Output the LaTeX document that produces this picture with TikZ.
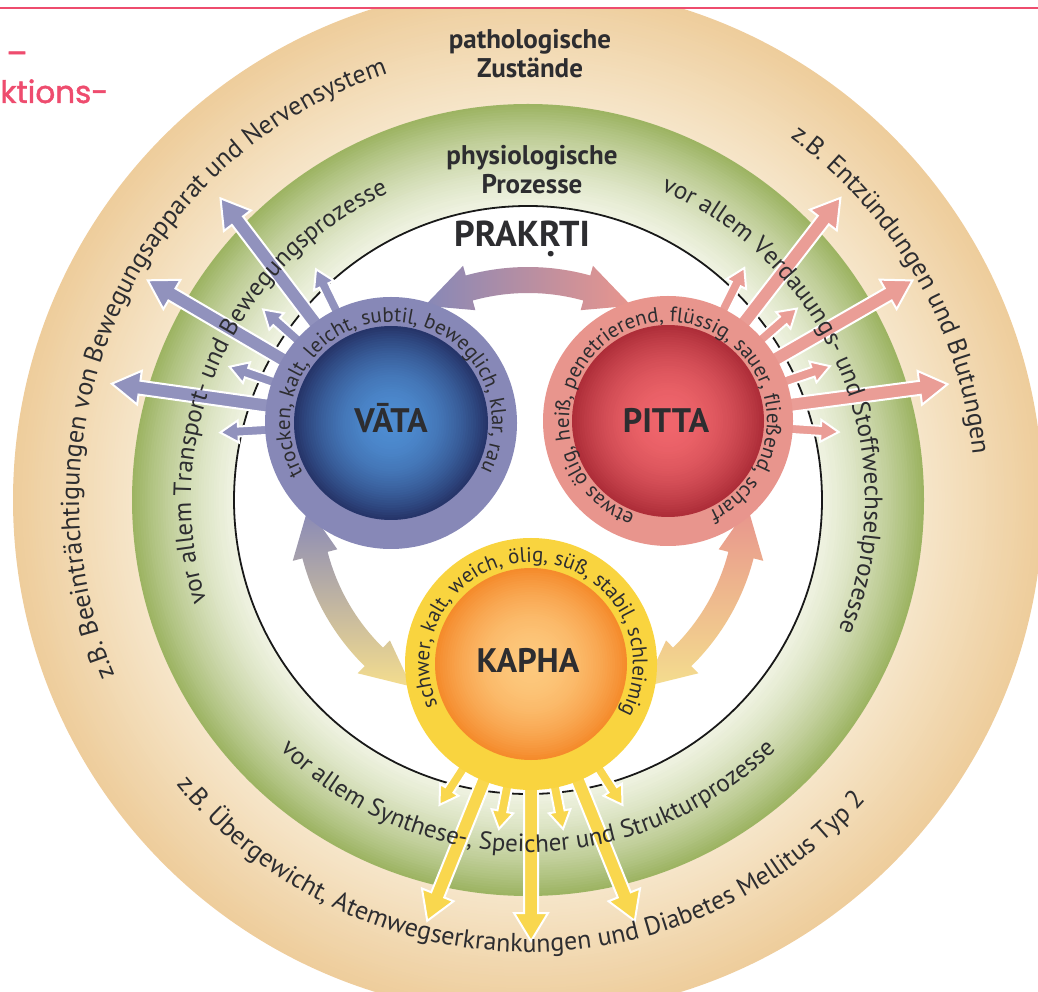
\documentclass[tikz,border=0pt]{standalone}
\usepackage{fontspec}
\setmainfont{PT Sans}
\newfontfamily\pagefont[FakeBold=1.5]{Poppins}
\usetikzlibrary{decorations.text}

\definecolor{tanout}{HTML}{EECD9C}
\definecolor{tanin}{HTML}{F6E6CA}
\definecolor{greenout}{HTML}{9DB463}
\definecolor{greenin}{HTML}{F1F4E4}
\definecolor{vatacol}{HTML}{8788B7}
\definecolor{vatadark}{HTML}{26356A}
\definecolor{vatalight}{HTML}{4E8DD2}
\definecolor{pittacol}{HTML}{E8958D}
\definecolor{pittadark}{HTML}{AE2E39}
\definecolor{pittalight}{HTML}{F0666C}
\definecolor{kaphacol}{HTML}{F9D43F}
\definecolor{kaphadark}{HTML}{F58B2C}
\definecolor{kaphalight}{HTML}{FDC97E}
\definecolor{paleyellow}{HTML}{F4DD8E}
\definecolor{textgray}{HTML}{2D2D30}
\definecolor{pagered}{HTML}{EE4C6E}

\newcommand{\ringfont}{\fontsize{25}{25}\selectfont}
\newcommand{\outerfont}{\fontsize{26}{26}\selectfont}
\newcommand{\doshafont}{\fontsize{21}{21}\selectfont}

% concentric fills: centre, outer r, inner r, outer colour, inner colour, easing
\newcommand{\radialfill}[6]{%
  \foreach \k in {0,...,40}{%
    \pgfmathsetmacro{\rr}{#2-(#2-#3)*\k/40}%
    \pgfmathtruncatemacro{\pc}{100*(\k/40)*(1+#6*(1-\k/40))}%
    \fill[#5!\pc!#4] (#1) circle (\rr);
  }}

% one straight arrow: angle, length, shaft half width, head half width, head length, colour
\newcommand{\ray}[6]{%
  \begin{scope}[rotate=#1]
    \filldraw[draw=white, line width=2pt, fill=#6!92!white] (100,-#3) -- (#2-#5,-#3) -- (#2-#5,-#4) -- (#2,0) -- (#2-#5,#4) -- (#2-#5,#3) -- (100,#3) -- cycle;
  \end{scope}}

% seven arrows round a dosha: centre, first angle, step, short length, long length, colour
\newcommand{\doshrays}[6]{%
  \begin{scope}[shift={(#1)}]
    \foreach \i in {0,...,6}{%
      \pgfmathsetmacro{\ang}{#2+#3*\i}%
      \ifodd\i \ray{\ang}{#5}{7}{17}{28}{#6}\else \ray{\ang}{#4}{5}{11}{18}{#6}\fi
    }
  \end{scope}}

% curved double arrow on the prakrti circle: tip angle, tip angle, shading
\newcommand{\prakarrow}[3]{%
  \pgfmathsetmacro{\headA}{#1+12.5*sign(#2-#1)}%
  \pgfmathsetmacro{\headB}{#2-12.5*sign(#2-#1)}%
  \shade[#3] (#1:220) -- (\headA:243) -- (\headA:233) arc[start angle=\headA, end angle=\headB, radius=233]
    -- (\headB:243) -- (#2:220) -- (\headB:197) -- (\headB:207) arc[start angle=\headB, end angle=\headA, radius=207]
    -- (\headA:197) -- cycle;}

% text on an arc: centre, radius, start angle, end angle, text
\newcommand{\arctext}[5]{%
  \path[shift={(#1)}, decorate, decoration={text along path, text align=center, text color=textgray, text={#5}}]
    (#3:#2) arc[start angle=#3, end angle=#4, radius=#2];}

\begin{document}
\begin{tikzpicture}[x=1pt, y=1pt]
	\tikzstyle{every node}=[text=textgray]
	\useasboundingbox (0,0) rectangle (1038,991);
	\clip (0,0) rectangle (1038,991);

	\coordinate (mid) at (528,491);
	\coordinate (vata) at (391,568);
	\coordinate (pitta) at (668,570);
	\coordinate (kapha) at (531,327);

	% outer rings
	\radialfill{mid}{515}{396}{tanout}{tanin}{0}
	\radialfill{mid}{396}{294}{greenout}{greenin}{0.4}
	\fill[white] (mid) circle (294);
	\draw[line width=1.8pt, black!90] (mid) circle (294);

	% page edge
	\fill[white] (0,983) rectangle (1038,991);
	\draw[pagered, line width=2.5pt] (0,983) -- (1038,983);
	\node[pagered, font=\pagefont\fontsize{31}{31}\selectfont, anchor=base west] (pageword) at (-3,888) {ktions-};
	\node[pagered, font=\pagefont\fontsize{31}{31}\selectfont] (pagedash) at (17,933) {–};

	% radiating arrows
	\doshrays{vata}{116}{11.2}{171}{282}{vatacol}
	\doshrays{pitta}{63.5}{-11.2}{171}{282}{pittacol}
	\doshrays{kapha}{237}{11}{168}{277}{kaphacol}

	% prakrti cycle
	\begin{scope}[shift={(mid)}]
	\prakarrow{118}{62}{left color=vatacol, right color=pittacol}
	\prakarrow{182}{238}{top color=vatacol, bottom color=paleyellow}
	\prakarrow{358}{302}{top color=pittacol, bottom color=paleyellow}
	\end{scope}

	% doshas
	\fill[vatacol] (vata) circle (126);
	\radialfill{vata}{97}{0}{vatadark}{vatalight}{1}
	\fill[pittacol] (pitta) circle (125);
	\radialfill{pitta}{96}{0}{pittadark}{pittalight}{1}
	\fill[kaphacol] (kapha) circle (126);
	\radialfill{kapha}{96}{0}{kaphadark}{kaphalight}{1}

	\node[font=\bfseries\fontsize{34}{34}\selectfont, anchor=base] (vatalabel) at (391,558) {VĀTA};
	\node[font=\bfseries\fontsize{34}{34}\selectfont, anchor=base] (pittalabel) at (666,558) {PITTA};
	\node[font=\bfseries\fontsize{34}{34}\selectfont, anchor=base] (kaphalabel) at (528,318) {KAPHA};

	\arctext{vata}{101}{266}{-84}{|\doshafont|trocken, kalt, leicht, subtil, beweglich, klar, rau}
	\arctext{pitta}{99}{267.5}{-82.5}{|\doshafont|etwas ölig, heiß, penetrierend, flüssig, sauer, fließend, scharf}
	\arctext{kapha}{102}{262.5}{-87.5}{|\doshafont|schwer, kalt, weich, ölig, süß, stabil, schleimig}

	% headings
	\node[font=\bfseries\fontsize{27}{29}\selectfont, align=center] (patho) at (530,937) {pathologische\\Zustände};
	\node[font=\bfseries\fontsize{27}{29}\selectfont, align=center] (physio) at (532,821) {physiologische\\Prozesse};
	\node[font=\bfseries\fontsize{36}{36}\selectfont] (prakrti) at (522,752) {PRAK\rlap{\kern0.2em\raisebox{-0.3em}{.}}RTI};

	% ring texts
	\arctext{mid}{337}{226}{86}{|\ringfont|vor allem Transport- und Bewegungsprozesse}
	\arctext{mid}{337}{92}{-48}{|\ringfont|vor allem Verdauungs- und Stoffwechselprozesse}
	\arctext{mid}{352}{200}{340}{|\ringfont|vor allem Synthese-, Speicher und Strukturprozesse}
	\arctext{mid}{449}{225.6}{85.6}{|\outerfont|z.B. Beeinträchtigungen von Bewegungsapparat und Nervensystem}
	\arctext{mid}{447}{89.9}{-30}{|\outerfont|z.B. Entzündungen und Blutungen}
	\arctext{mid}{452}{198.7}{338.7}{|\outerfont|z.B. Übergewicht, Atemwegserkrankungen und Diabetes Mellitus Typ 2}
\end{tikzpicture}
\end{document}
